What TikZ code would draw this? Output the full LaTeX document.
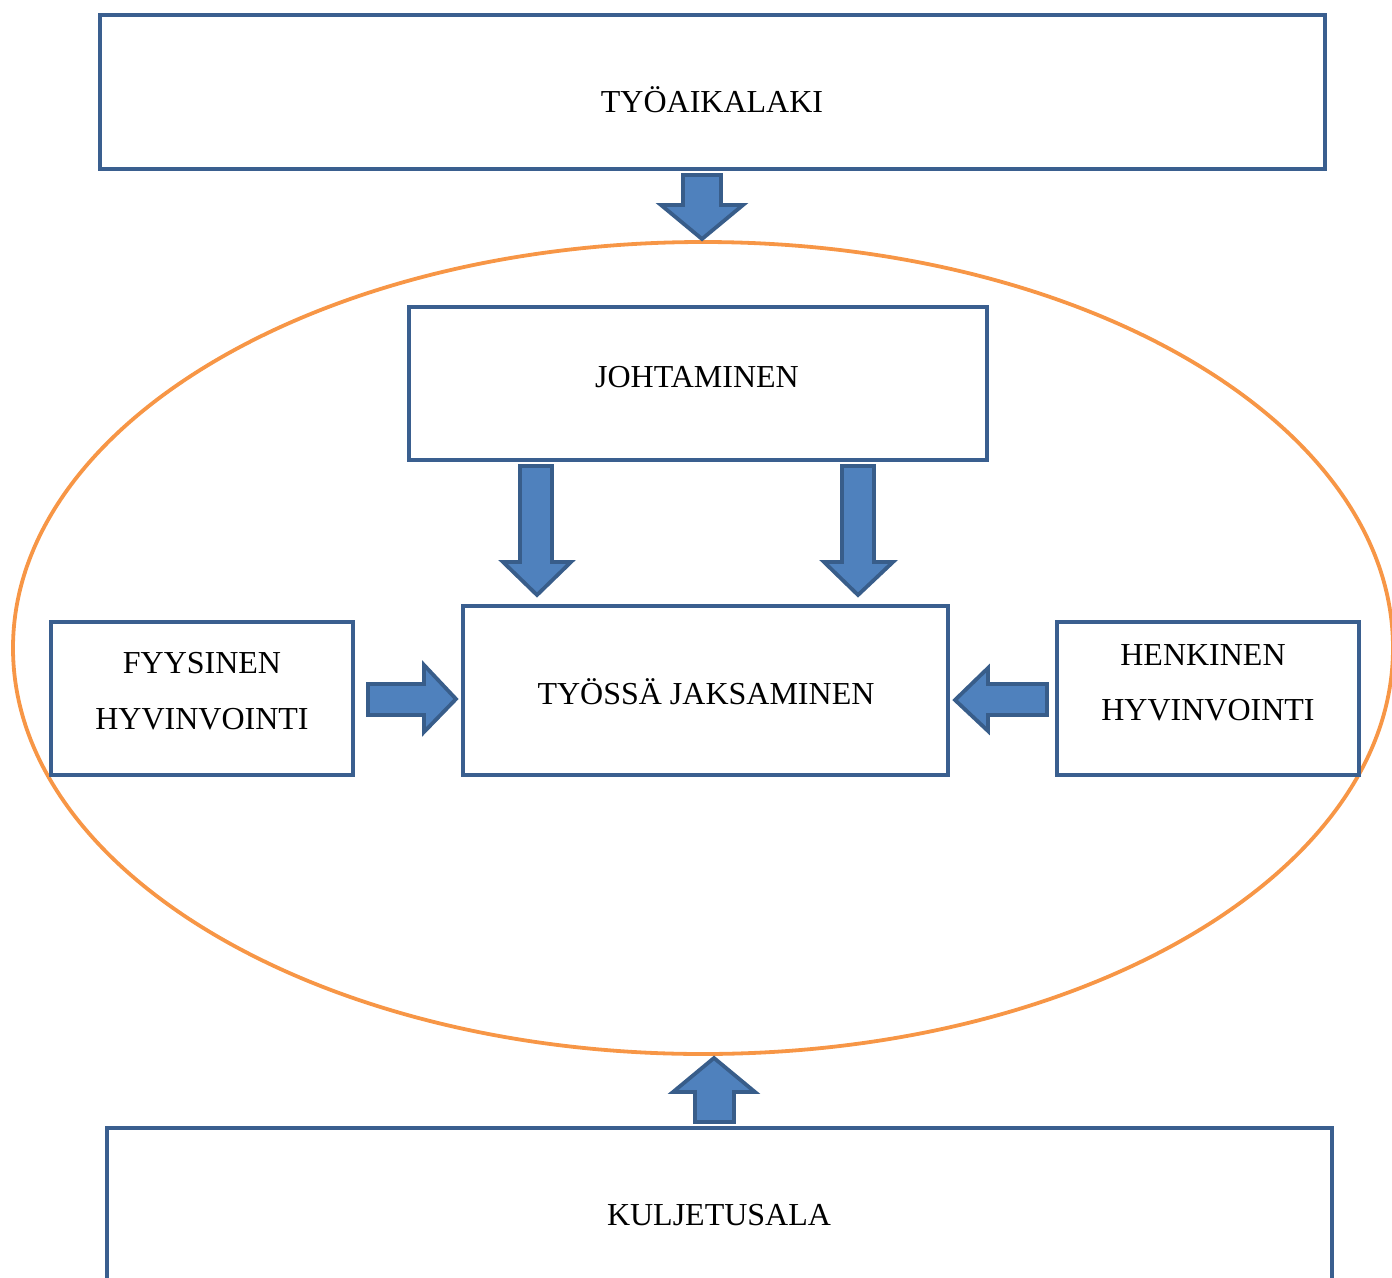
\documentclass[tikz,border=0pt]{standalone}
\usepackage{fontspec}
\setmainfont{Liberation Serif}
\definecolor{boxblue}{HTML}{3A5F8F}
\definecolor{arrfill}{HTML}{4F81BD}
\definecolor{arrline}{HTML}{385D8A}
\definecolor{ellorange}{HTML}{F79646}
\begin{document}
\begin{tikzpicture}[x=1pt,y=-1pt,
  box/.style={draw=boxblue,line width=4.3pt,fill=white,rectangle,inner sep=0pt,outer sep=0pt},
  blockarrow/.style={draw=arrline,fill=arrfill,line width=3.8pt,line join=miter},
  lbl/.style={font=\fontsize{32}{36}\selectfont,anchor=base,inner sep=0pt}]
\useasboundingbox (0,0) rectangle (1392,1277);
\clip (0,0) rectangle (1392,1277);
% ellipse
\draw[ellorange,line width=3.8pt] (703,648) ellipse [x radius=690, y radius=406];
% boxes
\node[box,minimum width=1225pt,minimum height=154pt] (law) at (712.5,92) {};
\node[lbl] (t1) at (712,112) {TYÖAIKALAKI};
\node[box,minimum width=578pt,minimum height=153pt] (lead) at (698,383.5) {};
\node[lbl] (t2) at (697,387) {JOHTAMINEN};
\node[box,minimum width=485pt,minimum height=169pt] (work) at (705.5,690.5) {};
\node[lbl] (t3) at (706,704) {TYÖSSÄ JAKSAMINEN};
\node[box,minimum width=302pt,minimum height=153pt] (phys) at (202,698.5) {};
\node[lbl] (t4) at (202,673) {FYYSINEN};
\node[lbl] (t5) at (202,729) {HYVINVOINTI};
\node[box,minimum width=302pt,minimum height=153pt] (ment) at (1208,698.5) {};
\node[lbl] (t6) at (1203,665) {HENKINEN};
\node[lbl] (t7) at (1208,720) {HYVINVOINTI};
\node[box,minimum width=1225pt,minimum height=180pt] (trans) at (719.5,1218) {};
\node[lbl] (t8) at (719,1225) {KULJETUSALA};
% block arrows
\draw[blockarrow] (683,175) -- (721,175) -- (721,205) -- (743,205) -- (702,239) -- (661,205) -- (683,205) -- cycle;
\draw[blockarrow] (520,466) -- (552,466) -- (552,562) -- (571,562) -- (537,595) -- (503,562) -- (520,562) -- cycle;
\draw[blockarrow] (842,466) -- (874,466) -- (874,562) -- (893,562) -- (858,595) -- (824,562) -- (842,562) -- cycle;
\draw[blockarrow] (368,684) -- (424,684) -- (424,665) -- (456,699) -- (424,732) -- (424,715) -- (368,715) -- cycle;
\draw[blockarrow] (1047,684) -- (988,684) -- (988,668) -- (955,700) -- (988,731) -- (988,715) -- (1047,715) -- cycle;
\draw[blockarrow] (695,1122) -- (734,1122) -- (734,1092) -- (755,1092) -- (714,1058) -- (673,1092) -- (695,1092) -- cycle;
\end{tikzpicture}
\end{document}
